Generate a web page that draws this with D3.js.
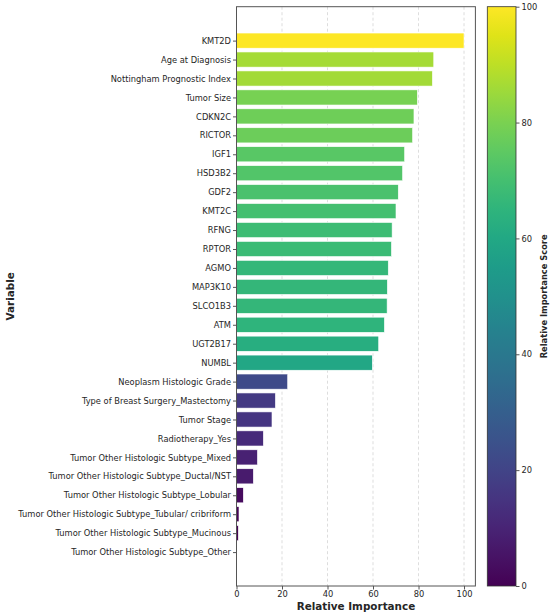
<!DOCTYPE html>
<html><head><meta charset="utf-8">
<script src="https://cdn.jsdelivr.net/npm/d3@7"></script>
<style>body{margin:0;background:#fff}svg{display:block}text{font-family:"DejaVu Sans",sans-serif;fill:#262626}</style>
</head><body><svg id="c" width="550" height="616"></svg>
<script>
const categories = ["KMT2D","Age at Diagnosis","Nottingham Prognostic Index","Tumor Size","CDKN2C","RICTOR","IGF1","HSD3B2","GDF2","KMT2C","RFNG","RPTOR","AGMO","MAP3K10","SLCO1B3","ATM","UGT2B17","NUMBL","Neoplasm Histologic Grade","Type of Breast Surgery_Mastectomy","Tumor Stage","Radiotherapy_Yes","Tumor Other Histologic Subtype_Mixed","Tumor Other Histologic Subtype_Ductal/NST","Tumor Other Histologic Subtype_Lobular","Tumor Other Histologic Subtype_Tubular/ cribriform","Tumor Other Histologic Subtype_Mucinous","Tumor Other Histologic Subtype_Other"];
const values = [100,86.7,86.1,79.5,78.0,77.4,73.9,73.0,71.1,70.1,68.4,68.1,66.7,66.3,66.2,65.0,62.5,59.7,22.5,17.1,15.6,11.8,9.2,7.4,3.0,1.1,0.8,0];
const xTicks = [0,20,40,60,80,100];
const cbTicks = [0,20,40,60,80,100];

const svg = d3.select("#c");
const L = 236.5, R = 475.4, T = 6.7, B = 586;
const FS = 8.3;
const x = d3.scaleLinear().domain([0,105]).range([L,R]);
const n = categories.length;
const y = d3.scaleLinear().domain([-0.4 - 0.05*(n-0.2), n-1+0.4+0.05*(n-0.2)]).range([T,B]);
const color = d3.scaleSequential(d3.interpolateViridis).domain([0,100]);

// grid
svg.append("g").selectAll("line").data(xTicks.slice(1)).join("line")
  .attr("x1",d=>x(d)).attr("x2",d=>x(d)).attr("y1",T).attr("y2",B)
  .attr("stroke","#b0b0b0").attr("stroke-width",0.7).attr("stroke-dasharray","3,2.5").attr("opacity",0.6);

// bars
svg.append("g").selectAll("rect").data(values).join("rect")
  .attr("x",x(0)).attr("width",d=>x(d)-x(0))
  .attr("y",(d,i)=>y(i-0.4)).attr("height",(d,i)=>y(i+0.4)-y(i-0.4))
  .attr("fill",d=>color(d)).attr("stroke",d=>d>0?"#ffffff":"none").attr("stroke-width",0.6);

// frame
svg.append("rect").attr("x",L).attr("y",T).attr("width",R-L).attr("height",B-T)
  .attr("fill","none").attr("stroke","#555").attr("stroke-width",1);

// x axis
const xa = svg.append("g").attr("transform",`translate(0,${B})`)
  .call(d3.axisBottom(x).tickValues(xTicks).tickSize(3.5).tickPadding(2));
xa.select(".domain").remove();
xa.selectAll("line").attr("stroke","#555");
xa.selectAll("text").attr("font-size",FS).attr("fill","#262626");

// y axis
const yband = d3.scalePoint().domain(categories).range([y(0),y(n-1)]);
const ya = svg.append("g").attr("transform",`translate(${L},0)`)
  .call(d3.axisLeft(yband).tickSize(3.5).tickPadding(2));
ya.select(".domain").remove();
ya.selectAll("line").attr("stroke","#555");
ya.selectAll("text").attr("font-size",FS).attr("fill","#262626");

// axis labels
svg.append("text").attr("x",(L+R)/2).attr("y",610).attr("text-anchor","middle")
  .attr("font-size",10.4).attr("font-weight","bold").attr("fill","#000").text("Relative Importance");
svg.append("text").attr("transform",`translate(14,${(T+B)/2}) rotate(-90)`).attr("text-anchor","middle")
  .attr("font-size",10.4).attr("font-weight","bold").attr("fill","#000").text("Variable");

// colorbar
const CL = 487.3, CR = 516;
const defs = svg.append("defs");
const grad = defs.append("linearGradient").attr("id","vg").attr("x1",0).attr("y1",1).attr("x2",0).attr("y2",0);
d3.range(0,1.0001,0.05).forEach(t=>grad.append("stop").attr("offset",t).attr("stop-color",d3.interpolateViridis(t)));
svg.append("rect").attr("x",CL).attr("y",T).attr("width",CR-CL).attr("height",B-T).attr("fill","url(#vg)")
  .attr("stroke","#333").attr("stroke-width",0.8);
const cy = d3.scaleLinear().domain([0,100]).range([B,T]);
const ca = svg.append("g").attr("transform",`translate(${CR},0)`)
  .call(d3.axisRight(cy).tickValues(cbTicks).tickSize(3.5).tickPadding(2));
ca.select(".domain").remove();
ca.selectAll("line").attr("stroke","#555");
ca.selectAll("text").attr("font-size",FS).attr("fill","#262626");
svg.append("text").attr("transform",`translate(544,${(T+B)/2}) rotate(-90)`).attr("text-anchor","middle")
  .attr("dominant-baseline","middle").attr("font-size",8.3).attr("font-weight","bold").attr("fill","#000").text("Relative Importance Score");
</script></body></html>
